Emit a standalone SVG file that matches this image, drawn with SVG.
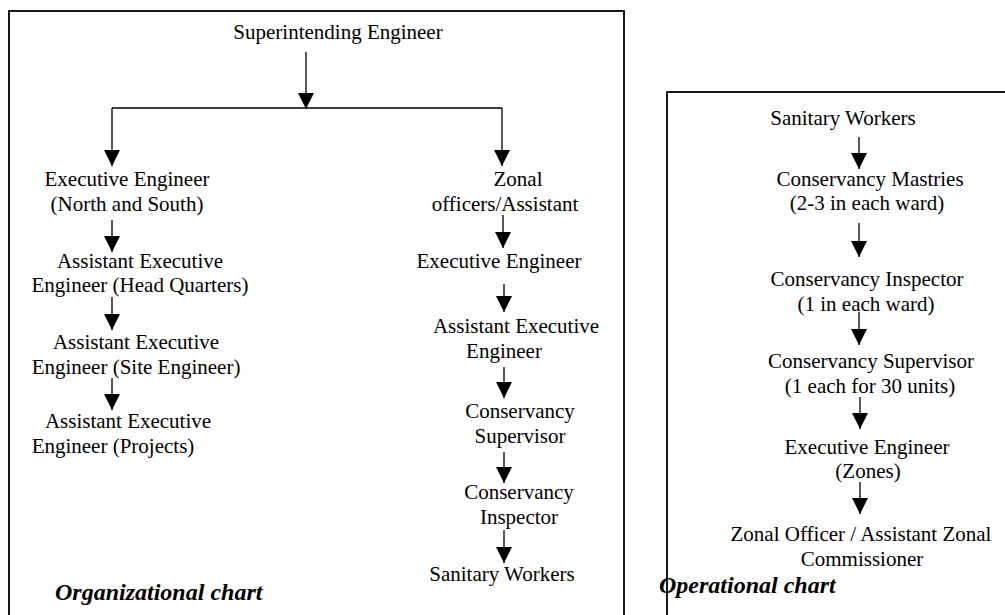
<svg xmlns="http://www.w3.org/2000/svg" width="1005" height="615" viewBox="0 0 1005 615">
<style>
.t{font-family:"Liberation Serif","Times New Roman",serif;font-size:21px;fill:#000;text-anchor:middle}
.ti{font-family:"Liberation Serif","Times New Roman",serif;font-size:24px;font-weight:bold;font-style:italic;fill:#000}
.box{fill:none;stroke:#000;stroke-width:1.8}
.c{fill:none;stroke:#000;stroke-width:1.3}
</style>
<defs>
<marker id="ah" viewBox="0 0 16 16" refX="16" refY="8" markerWidth="16" markerHeight="16" markerUnits="userSpaceOnUse" orient="auto">
<path d="M0,0 L16,8 L0,16 z" fill="#000"/>
</marker>
</defs>
<rect class="box" x="9" y="11" width="615" height="620"/>
<rect class="box" x="667" y="92" width="350" height="540"/>
<g id="connectors">
<line class="c" x1="306" y1="52" x2="306" y2="109" marker-end="url(#ah)"/>
<polyline class="c" points="112,108 502,108"/>
<line class="c" x1="112" y1="108" x2="112" y2="166" marker-end="url(#ah)"/>
<line class="c" x1="502" y1="108" x2="502" y2="166" marker-end="url(#ah)"/>
<line class="c" x1="112" y1="220" x2="112" y2="252" marker-end="url(#ah)"/>
<line class="c" x1="112" y1="297" x2="112" y2="330" marker-end="url(#ah)"/>
<line class="c" x1="112" y1="378" x2="112" y2="410" marker-end="url(#ah)"/>
<line class="c" x1="503" y1="215" x2="503" y2="248" marker-end="url(#ah)"/>
<line class="c" x1="504" y1="284" x2="504" y2="312" marker-end="url(#ah)"/>
<line class="c" x1="504" y1="367" x2="504" y2="398" marker-end="url(#ah)"/>
<line class="c" x1="504" y1="452" x2="504" y2="483" marker-end="url(#ah)"/>
<line class="c" x1="504" y1="530" x2="504" y2="563" marker-end="url(#ah)"/>
<line class="c" x1="859" y1="137" x2="859" y2="169" marker-end="url(#ah)"/>
<line class="c" x1="859" y1="223" x2="859" y2="257" marker-end="url(#ah)"/>
<line class="c" x1="859" y1="312" x2="859" y2="345" marker-end="url(#ah)"/>
<line class="c" x1="860" y1="397" x2="860" y2="429" marker-end="url(#ah)"/>
<line class="c" x1="860" y1="482" x2="860" y2="514" marker-end="url(#ah)"/>
</g>
<g id="n-se"><text class="t" x="338" y="39">Superintending Engineer</text></g>
<g id="n-ee-ns"><text class="t" x="127" y="186">Executive Engineer</text><text class="t" x="127" y="211">(North and South)</text></g>
<g id="n-aee-hq"><text class="t" x="140" y="268">Assistant Executive</text><text class="t" x="140" y="292">Engineer (Head Quarters)</text></g>
<g id="n-aee-site"><text class="t" x="136" y="349">Assistant Executive</text><text class="t" x="136" y="374">Engineer (Site Engineer)</text></g>
<g id="n-aee-proj"><text class="t" x="128" y="428">Assistant Executive</text><text class="t" x="113" y="453">Engineer (Projects)</text></g>
<g id="n-zonal"><text class="t" x="518" y="186">Zonal</text><text class="t" x="505" y="211">officers/Assistant</text></g>
<g id="n-ee"><text class="t" x="499" y="268">Executive Engineer</text></g>
<g id="n-aee"><text class="t" x="516" y="333">Assistant Executive</text><text class="t" x="504" y="358">Engineer</text></g>
<g id="n-cs"><text class="t" x="520" y="418">Conservancy</text><text class="t" x="520" y="443">Supervisor</text></g>
<g id="n-ci"><text class="t" x="519" y="499">Conservancy</text><text class="t" x="519" y="524">Inspector</text></g>
<g id="n-sw"><text class="t" x="502" y="581">Sanitary Workers</text></g>
<g id="title-org"><text class="ti" x="55" y="600">Organizational chart</text></g>
<g id="o-sw"><text class="t" x="843" y="125">Sanitary Workers</text></g>
<g id="o-cm"><text class="t" x="870" y="186">Conservancy Mastries</text><text class="t" x="867" y="210">(2-3 in each ward)</text></g>
<g id="o-ci"><text class="t" x="867" y="286">Conservancy Inspector</text><text class="t" x="866" y="311">(1 in each ward)</text></g>
<g id="o-cs"><text class="t" x="871" y="368">Conservancy Supervisor</text><text class="t" x="870" y="393">(1 each for 30 units)</text></g>
<g id="o-ee"><text class="t" x="867" y="454">Executive Engineer</text><text class="t" x="868" y="478">(Zones)</text></g>
<g id="o-zo"><text class="t" x="861" y="541">Zonal Officer / Assistant Zonal</text><text class="t" x="862" y="566">Commissioner</text></g>
<g id="title-op"><text class="ti" x="659" y="593">Operational chart</text></g>
</svg>
